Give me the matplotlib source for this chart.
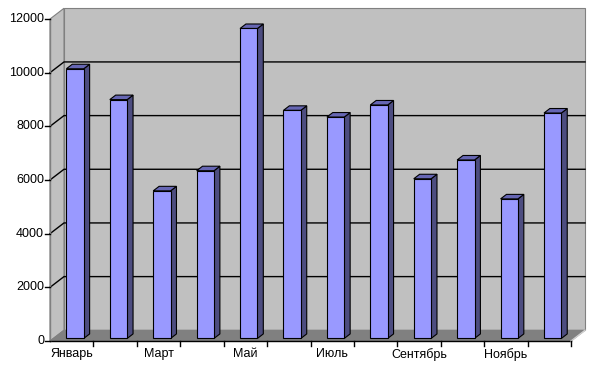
# Продажи по месяцам - 3D гистограмма в стиле Excel
import numpy as np
import matplotlib.pyplot as plt
from matplotlib.patches import Polygon

#Datos
months = ['Январь', 'Февраль', 'Март', 'Апрель', 'Май', 'Июнь',
          'Июль', 'Август', 'Сентябрь', 'Октябрь', 'Ноябрь', 'Декабрь']
values = [10050, 8900, 5500, 6250, 11550, 8500, 8250, 8700, 5950, 6650, 5200, 8400]
y_ticks = [0, 2000, 4000, 6000, 8000, 10000, 12000]

plt.rcParams['font.family'] = ['Liberation Sans', 'DejaVu Sans']

fig = plt.figure(figsize=(5.91, 3.76), dpi=100)
ax = fig.add_axes([0, 0, 1, 1])
ax.set_xlim(-1.1515, 12.46)
ax.set_ylim(-1304, 12708)
ax.axis('off')

n = len(months)
ymax = 12000
DX, DY = 0.3224, 400   # profundidad
z0, z1 = 0.24, 0.66     # posicion de las barras en profundidad
w = 0.4

def P(x, y, z):
    return (x + z * DX, y + z * DY)

def poly(pts, fc, ec, lw=0.8, zo=1):
    ax.add_patch(Polygon(pts, closed=True, facecolor=fc, edgecolor=ec, linewidth=lw, zorder=zo))

# paredes
poly([P(0, 0, 1), P(n, 0, 1), P(n, ymax, 1), P(0, ymax, 1)], '#c0c0c0', '#808080', zo=1)
poly([P(0, 0, 0), P(0, 0, 1), P(0, ymax, 1), P(0, ymax, 0)], '#c0c0c0', '#808080', zo=1)
poly([P(0, 0, 0), P(n, 0, 0), P(n, 0, 1), P(0, 0, 1)], '#808080', '#808080', zo=2)

# lineas de la cuadricula
for t in y_ticks[1:-1]:
    xs = [P(0, t, 0)[0], P(0, t, 1)[0], P(n, t, 1)[0]]
    ys = [P(0, t, 0)[1], P(0, t, 1)[1], P(n, t, 1)[1]]
    ax.plot(xs, ys, color='black', lw=1, zorder=2)

# ejes
ax.plot([0, n], [0, 0], color='black', lw=1, zorder=3)
ax.plot([0, 0], [0, ymax], color='#808080', lw=1, zorder=3)
ax.plot([P(n, 0, 0)[0], P(n, 0, 1)[0]], [0, P(n, 0, 1)[1]], color='#d0d0d0', lw=1, zorder=3)
for t in y_ticks:
    ax.plot([-0.115, 0], [t, t], color='black', lw=1, zorder=3)
    ax.text(-0.135, t, str(t), ha='right', va='center', fontsize=9, color='black')
for i in range(1, n + 1):
    ax.plot([i, i], [0, -190], color='black', lw=1, zorder=3)
for i in range(0, n, 2):
    ax.text(i + 0.5, -250, months[i], ha='center', va='top', fontsize=9, color='black')

# barras
for i, v in enumerate(values):
    xl = i + 0.5 - w / 2
    xr = i + 0.5 + w / 2
    poly([P(xr, 0, z0), P(xr, 0, z1), P(xr, v, z1), P(xr, v, z0)], '#4d4d80', 'black', zo=4)
    poly([P(xl, v, z0), P(xr, v, z0), P(xr, v, z1), P(xl, v, z1)], '#6666b3', 'black', zo=4)
    poly([P(xl, 0, z0), P(xr, 0, z0), P(xr, v, z0), P(xl, v, z0)], '#9999ff', 'black', zo=5)

plt.savefig('out.png', dpi=100)
